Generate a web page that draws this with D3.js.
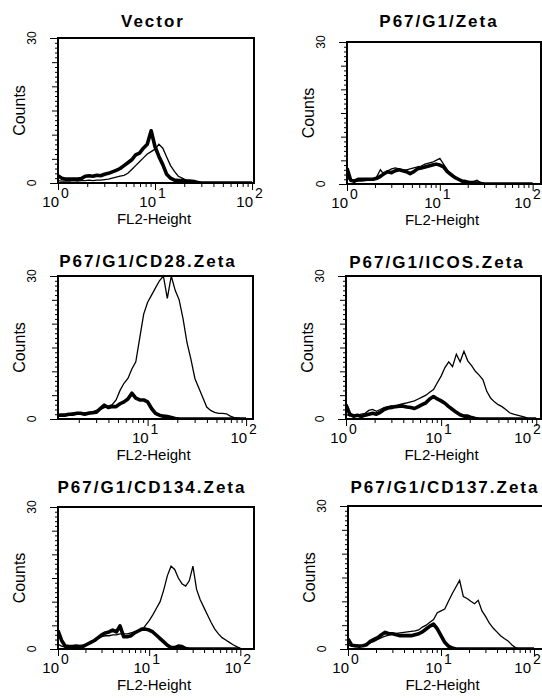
<!DOCTYPE html>
<html>
<head>
<meta charset="utf-8">
<script src="https://cdn.jsdelivr.net/npm/d3@7"></script>
<style>
  body { margin: 0; background: #fff; }
  svg { display: block; }
  text { font-family: "Liberation Sans", Arial, sans-serif; fill: #000; }
</style>
</head>
<body>
<div id="chart"></div>
<script>
// panel titles
var titles = ["Vector", "P67/G1/Zeta", "P67/G1/CD28.Zeta", "P67/G1/ICOS.Zeta", "P67/G1/CD134.Zeta", "P67/G1/CD137.Zeta"];

// log10(FL2-Height) of each histogram bin
var binLog = [0,0.04,0.08,0.12,0.16,0.2,0.24,0.28,0.32,0.36,
  0.4,0.44,0.48,0.52,0.56,0.6,0.64,0.68,0.72,0.76,
  0.8,0.84,0.88,0.92,0.96,1,1.04,1.08,1.12,1.16,
  1.2,1.24,1.28,1.32,1.36,1.4,1.44,1.48,1.52,1.56,
  1.6,1.64,1.68,1.72,1.76,1.8,1.84,1.88,1.92,1.96,2];

// counts, thick (control) and thin histogram of every panel
var vectorThick = [1.5,1.0,0.8,0.8,0.8,0.8,0.9,1.4,1.5,1.4, 1.6,1.5,1.8,2.0,2.3,2.6,3.0,3.6,4.2,4.8,
  5.8,6.2,7.2,8.0,10.8,7.5,5.5,3.8,1.8,1.0, 0.6,0.5,0.5,0.4,0.4,0.3,0.1,0,0,0, 0,0,0,0,0,0,0,0,0,0,0];
var vectorThin = [0.5,0.4,0.4,0.4,0.5,0.4,0.5,0.5,0.6,0.5, 0.6,0.6,0.7,0.8,1.0,1.2,1.4,1.6,2.0,2.8,
  3.6,4.4,5.2,6.0,6.5,7.0,8.0,7.2,5.4,3.6, 2.4,1.4,1.0,0.6,0.4,0.2,0,0,0,0, 0,0,0,0,0,0,0,0,0,0,0];

var zetaThick = [3.3,0.8,0.6,1.0,1.0,1.0,1.0,1.0,1.2,1.6, 2.2,2.6,2.4,2.8,3.0,2.8,2.6,2.2,2.6,3.2,
  3.4,3.6,3.8,4.0,4.2,4.0,3.6,2.6,2.0,1.4, 1.0,0.6,0.5,0.3,0.3,0.2,0.1,0,0,0, 0,0,0,0,0,0,0,0,0,0,0];
var zetaThin = [1.5,0.6,0.5,0.6,0.6,0.7,0.8,0.8,1.5,3.0, 2.0,2.8,3.2,3.4,3.2,3.0,3.0,3.2,3.4,3.6,
  3.8,4.2,4.4,4.6,5.0,5.4,4.2,3.0,2.0,1.3, 0.9,0.6,0.5,0.4,0.5,0.8,0.3,0,0,0, 0,0,0,0,0,0,0,0,0,0,0];

var cd28Thick = [1.0,0.8,0.8,0.8,0.8,1.0,1.0,1.2,1.2,1.0, 1.2,1.3,1.4,2.2,2.9,2.4,2.6,2.6,3.2,3.6,
  4.2,5.4,4.4,4.0,4.0,3.6,2.2,1.2,0.8,0.6, 0.5,0.3,0.1,0,0,0,0,0,0,0, 0,0,0,0,0,0,0,0,0,0,0];
var cd28Thin = [0.8,0.8,0.9,1.0,1.0,1.1,1.3,1.3,1.2,1.3, 1.4,1.5,1.8,2.0,2.4,2.7,3.0,4.0,6.0,7.5,
  8.5,10.5,12.0,17.0,22.0,24.5,26.0,27.5,29.0,30.0, 25.3,30.0,27.0,25.0,21.0,16.0,12.5,8.5,6.5,4.5,
  2.5,1.8,1.4,1.2,1.2,1.1,0.6,0.3,0.2,0,0];

var icosThick = [3.0,1.0,0.6,0.8,0.5,0.8,1.0,1.2,1.0,1.4, 2.0,2.3,2.4,2.6,2.7,2.7,2.5,2.4,2.2,2.6,
  3.0,3.4,4.2,4.7,4.2,3.8,3.3,2.6,2.0,1.4, 0.9,0.6,0.6,0.3,0.1,0,0,0,0,0, 0,0,0,0,0,0,0,0,0,0,0];
var icosThin = [1.0,0.6,0.8,0.8,1.0,1.2,1.8,2.0,1.6,2.0, 2.4,2.6,2.8,2.6,3.0,3.2,3.4,3.6,3.8,4.2,
  4.6,5.0,5.6,6.2,7.6,9.0,10.8,12.0,11.0,13.6, 12.0,14.2,12.2,11.2,10.0,9.2,8.2,5.8,4.4,3.6,
  3.0,2.6,2.0,1.3,1.0,0.8,0.6,0.4,0.1,0,0];

var cd134Thick = [3.9,1.8,0.6,0.5,0.5,0.6,0.5,0.6,1.0,1.4, 1.8,2.4,3.0,3.4,3.6,4.0,3.6,4.9,2.6,2.6,
  2.8,3.4,3.8,4.2,4.2,4.0,3.6,2.9,2.2,1.5, 0.8,0.3,0.3,0.6,0.5,0.1,0,0,0,0, 0,0,0,0,0,0,0,0,0,0,0];
var cd134Thin = [1.0,0.6,0.4,0.5,0.5,0.5,0.6,0.8,1.0,1.4, 1.8,2.2,2.6,2.8,2.8,3.0,3.0,3.2,3.2,3.2,
  3.4,3.6,3.8,4.0,5.0,6.0,7.2,8.6,10.0,12.5, 15.5,17.5,16.8,15.0,13.8,13.3,14.4,17.5,12.6,10.4,
  8.8,7.2,5.6,4.2,3.2,2.4,1.9,1.4,0.9,0.5,0.1];

var cd137Thick = [2.1,0.8,0.7,0.6,0.7,0.9,1.6,2.0,2.4,3.0, 3.5,3.2,3.2,3.0,2.8,2.8,2.8,2.8,3.0,3.2,
  3.6,4.2,4.8,5.2,4.2,2.8,1.4,0.6,0.2,0, 0,0,0,0,0,0,0,0,0,0, 0,0,0,0,0,0,0,0,0,0,0];
var cd137Thin = [0.8,0.6,0.5,0.6,0.8,1.0,1.3,1.6,2.0,2.4, 2.7,2.9,3.2,3.3,3.4,3.5,3.6,3.7,3.8,4.0,
  4.6,5.0,5.6,6.2,7.6,8.0,8.4,10.0,11.6,13.0, 14.4,11.0,10.6,10.0,9.5,10.2,8.0,6.8,5.4,4.4,
  3.6,2.8,2.2,1.7,0.9,0.3,0,0,0,0,0];

var thickSeries = [vectorThick, zetaThick, cd28Thick, icosThick, cd134Thick, cd137Thick];
var thinSeries = [vectorThin, zetaThin, cd28Thin, icosThin, cd134Thin, cd137Thin];

var yMax = 30;
var yLabels = [0, 30];
var decades = [1, 10, 100];
var minorMult = [2, 3, 4, 5, 6, 7, 8, 9];

// plot box of each panel and its visible log10 range
var boxes = [
  {x0: 58,  x1: 254, y0: 38,  y1: 183, lo: 0,    hi: 2.02, tx: 153, ty: 27},
  {x0: 347, x1: 541, y0: 42,  y1: 184, lo: 0,    hi: 2.09, tx: 439, ty: 27},
  {x0: 58,  x1: 253, y0: 276, y1: 419, lo: 0.09, hi: 2.07, tx: 148, ty: 267},
  {x0: 346, x1: 541, y0: 276, y1: 419, lo: 0,    hi: 2.05, tx: 437, ty: 268},
  {x0: 58,  x1: 254, y0: 507, y1: 649, lo: 0,    hi: 2.15, tx: 152, ty: 493},
  {x0: 348, x1: 548, y0: 506, y1: 649, lo: 0,    hi: 2.15, tx: 445, ty: 493}
];

var W = 542, H = 699;
var svg = d3.select("#chart").append("svg")
  .attr("width", W)
  .attr("height", H);

titles.forEach(function(title, i) {
  var b = boxes[i];
  var x = d3.scaleLog().domain([Math.pow(10, b.lo), Math.pow(10, b.hi)]).range([b.x0, b.x1]);
  var y = d3.scaleLinear().domain([0, yMax]).range([b.y1, b.y0]);
  var g = svg.append("g");

  g.append("clipPath").attr("id", "clip" + i)
    .append("rect")
    .attr("x", b.x0).attr("y", b.y0 - 2)
    .attr("width", b.x1 - b.x0).attr("height", b.y1 - b.y0 + 2);

  // title
  g.append("text")
    .attr("x", b.tx).attr("y", b.ty)
    .attr("text-anchor", "middle")
    .style("font-size", "17px")
    .style("font-weight", "bold")
    .style("letter-spacing", "2px")
    .text(title);

  // x ticks (log)
  var inRange = function(v) { return v >= x.domain()[0] - 1e-9 && v <= x.domain()[1] + 1e-9; };
  var minors = [];
  decades.slice(0, 2).forEach(function(d) {
    minorMult.forEach(function(m) { minors.push(d * m); });
  });
  g.append("g")
    .attr("transform", "translate(0," + b.y1 + ")")
    .call(d3.axisBottom(x).tickValues(minors.filter(inRange)).tickSize(4).tickFormat(""))
    .call(function(s) { s.select(".domain").remove(); });
  g.append("g")
    .attr("transform", "translate(0," + b.y1 + ")")
    .call(d3.axisBottom(x).tickValues(decades.filter(inRange)).tickSize(7).tickFormat(""))
    .call(function(s) { s.select(".domain").remove(); });

  // decade labels 10^n (kept inside the page at the right edge)
  decades.filter(inRange).forEach(function(d) {
    var px = Math.min(x(d), W - 12);
    var expo = Math.round(Math.log10(d));
    g.append("text")
      .attr("x", px + 1).attr("y", b.y1 + 24)
      .attr("text-anchor", "end")
      .style("font-size", "15px")
      .text("10");
    g.append("text")
      .attr("x", px + 3).attr("y", b.y1 + 15)
      .style("font-size", "14px")
      .text(expo);
  });

  g.append("text")
    .attr("x", (b.x0 + Math.min(b.x1, 541)) / 2 - 2).attr("y", b.y1 + 41)
    .attr("text-anchor", "middle")
    .style("font-size", "15px")
    .text("FL2-Height");

  // y ticks: every count, longer every 5
  var yAll = d3.range(0, yMax + 1);
  g.append("g")
    .attr("transform", "translate(" + b.x0 + ",0)")
    .call(d3.axisLeft(y).tickValues(yAll.filter(function(v) { return v % 5 !== 0; })).tickSize(3).tickFormat(""))
    .call(function(s) { s.select(".domain").remove(); });
  g.append("g")
    .attr("transform", "translate(" + b.x0 + ",0)")
    .call(d3.axisLeft(y).tickValues([5, 10, 15, 20, 25]).tickSize(6).tickFormat(""))
    .call(function(s) { s.select(".domain").remove(); });
  g.append("g")
    .attr("transform", "translate(" + b.x0 + ",0)")
    .call(d3.axisLeft(y).tickValues(yLabels).tickSize(8).tickFormat(""))
    .call(function(s) { s.select(".domain").remove(); });

  yLabels.forEach(function(v) {
    g.append("text")
      .attr("transform", "translate(" + (b.x0 - 22) + "," + y(v) + ") rotate(-90)")
      .attr("text-anchor", "middle")
      .style("font-size", "12px")
      .text(v);
  });
  g.append("text")
    .attr("transform", "translate(" + (b.x0 - 33) + "," + ((b.y0 + b.y1) / 2) + ") rotate(-90)")
    .attr("text-anchor", "middle")
    .style("font-size", "16px")
    .text("Counts");

  // histograms
  var line = d3.line()
    .x(function(d, k) { return x(Math.pow(10, binLog[k])); })
    .y(function(d) { return y(d); });

  var plot = g.append("g").attr("clip-path", "url(#clip" + i + ")");
  plot.append("path")
    .datum(thinSeries[i])
    .attr("fill", "none")
    .attr("stroke", "#000")
    .attr("stroke-width", 1.3)
    .attr("d", line);
  plot.append("path")
    .datum(thickSeries[i])
    .attr("fill", "none")
    .attr("stroke", "#000")
    .attr("stroke-width", 3.6)
    .attr("stroke-linejoin", "round")
    .attr("d", line);

  // frame
  g.append("rect")
    .attr("x", b.x0).attr("y", b.y0)
    .attr("width", b.x1 - b.x0).attr("height", b.y1 - b.y0)
    .attr("fill", "none")
    .attr("stroke", "#000")
    .attr("stroke-width", 2);
});
</script>
</body>
</html>
